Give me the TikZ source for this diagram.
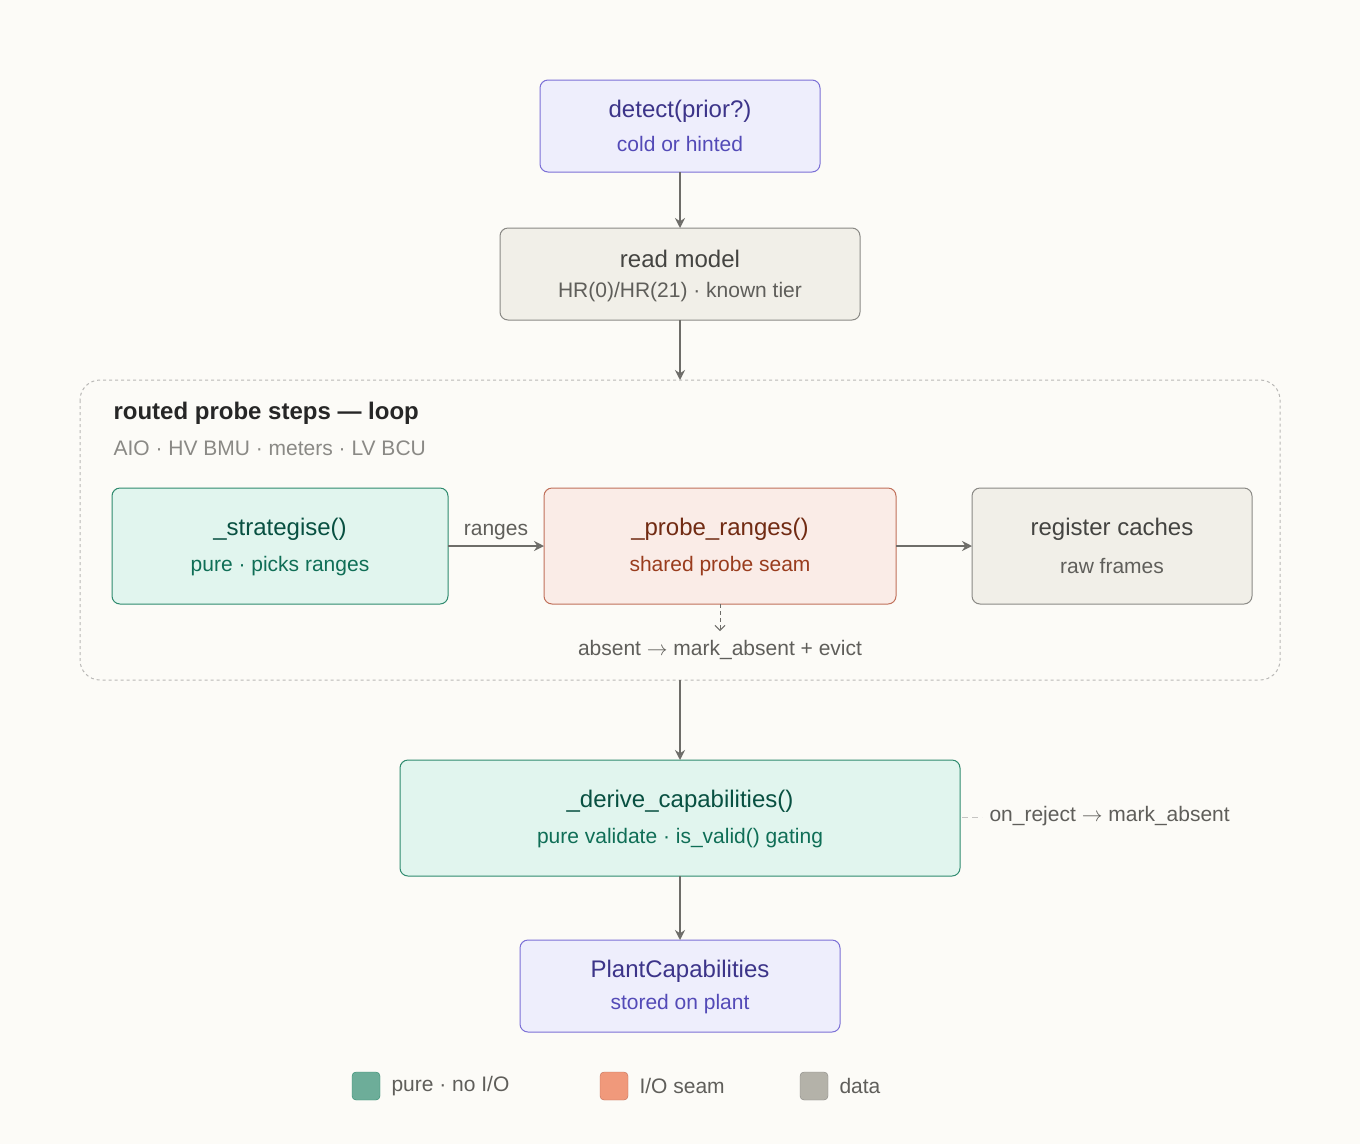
\documentclass[tikz,border=0pt]{standalone}
\usepackage{fontspec}
\setmainfont{Liberation Sans}
\usetikzlibrary{arrows.meta}
\definecolor{bg}{HTML}{FCFBF7}
\definecolor{pF}{HTML}{EEEEFC}\definecolor{pS}{HTML}{7B6FD6}\definecolor{pT}{HTML}{3C3489}\definecolor{pU}{HTML}{534AB7}
\definecolor{gF}{HTML}{F1EFE8}\definecolor{gS}{HTML}{8A8985}\definecolor{gT}{HTML}{444441}\definecolor{gU}{HTML}{5F5E5A}
\definecolor{tF}{HTML}{E1F5EE}\definecolor{tS}{HTML}{2E8A6E}\definecolor{tT}{HTML}{085041}\definecolor{tU}{HTML}{0F6E56}
\definecolor{oF}{HTML}{FAECE7}\definecolor{oS}{HTML}{C0705A}\definecolor{oT}{HTML}{712B13}\definecolor{oU}{HTML}{993C1D}
\definecolor{arr}{HTML}{6E6D69}
\begin{document}
\begin{tikzpicture}[x=1pt,y=-1pt,
 box/.style={draw,rounded corners=8pt,line width=1pt},
 t/.style={font=\fontsize{24}{28}\selectfont},
 s/.style={font=\fontsize{21}{25}\selectfont},
 a/.style={draw=arr,line width=2pt,-{Stealth[length=10pt,width=10pt,open]}},
]
\fill[bg] (0,0) rectangle (1360,1144);
\useasboundingbox (0,0) rectangle (1360,1144);
% container
\draw[draw=gS!60,dashed,line width=1pt,rounded corners=20pt] (80,380) rectangle (1280,680);
\node[anchor=west,font=\fontsize{24}{28}\selectfont\bfseries,text=black!85] (ct) at (110,413) {routed probe steps — loop};
\node[anchor=west,font=\fontsize{21}{25}\selectfont,text=gS] (cs) at (110,448) {AIO · HV BMU · meters · LV BCU};
% boxes
\draw[box,fill=pF,draw=pS] (540,80) rectangle (820,172) coordinate (d2); \coordinate (d) at (680,126);
\node[t,text=pT] (dt) at (680,111) {detect(prior?)};
\node[s,text=pU] (ds) at (680,144) {cold or hinted};
\draw[box,fill=gF,draw=gS] (500,228) rectangle (860,320);
\node[t,text=gT] (rt) at (680,259) {read model};
\node[s,text=gU] (rs) at (680,292) {HR(0)/HR(21) · known tier};
\draw[box,fill=tF,draw=tS] (112,488) rectangle (448,604);
\node[t,text=tT] (st) at (280,529) {\_strategise()};
\node[s,text=tU] (ss) at (280,566) {pure · picks ranges};
\draw[box,fill=oF,draw=oS] (544,488) rectangle (896,604);
\node[t,text=oT] (pt) at (720,529) {\_probe\_ranges()};
\node[s,text=oU] (ps) at (720,566) {shared probe seam};
\draw[box,fill=gF,draw=gS] (972,488) rectangle (1252,604);
\node[t,text=gT] (gt) at (1112,529) {register caches};
\node[s,text=gU] (gs) at (1112,566) {raw frames};
\node[s,text=gU] (ab) at (720,650) {absent $\rightarrow$ mark\_absent + evict};
\draw[box,fill=tF,draw=tS] (400,760) rectangle (960,876);
\node[t,text=tT] (vt) at (680,801) {\_derive\_capabilities()};
\node[s,text=tU] (vs) at (680,838) {pure validate · is\_valid() gating};
\node[s,text=gU,anchor=west] (rj) at (986,816) {on\_reject $\rightarrow$ mark\_absent};
\draw[box,fill=pF,draw=pS] (520,940) rectangle (840,1032);
\node[t,text=pT] (pc) at (680,971) {PlantCapabilities};
\node[s,text=pU] (po) at (680,1004) {stored on plant};
% connectors
\coordinate (a1) at (680,172); \coordinate (a2) at (680,228);
\coordinate (b1) at (680,320); \coordinate (b2) at (680,380);
\coordinate (c1) at (448,546); \coordinate (c2) at (544,546);
\coordinate (e1) at (896,546); \coordinate (e2) at (972,546);
\coordinate (f1) at (680,680); \coordinate (f2) at (680,760);
\coordinate (g1) at (680,876); \coordinate (g2) at (680,940);
\coordinate (h1) at (720,604); \coordinate (h2) at (720,631);
\coordinate (j1) at (962,817); \coordinate (j2) at (982,817);
\draw[a] (a1) -- (a2);
\draw[a] (b1) -- (b2);
\draw[a] (c1) -- node[s,text=gU,above=2pt] (rl) {ranges} (c2);
\draw[a] (e1) -- (e2);
\draw[a] (f1) -- (f2);
\draw[a] (g1) -- (g2);
\draw[draw=arr,line width=1pt,dashed,dash pattern=on 4pt off 3pt,-{Straight Barb[length=5pt,width=10pt]}] (h1) -- (h2);
\draw[draw=gS!50,line width=1pt,dash pattern=on 6pt off 4pt] (j1) -- (j2);
% legend
\draw[rounded corners=4pt,fill=tS!70!white,draw=tS] (352,1072) rectangle (380,1100);
\node[s,text=gU,anchor=west] (l1) at (388,1086) {pure · no I/O};
\draw[rounded corners=4pt,fill={rgb,255:red,240;green,153;blue,123},draw=oS] (600,1072) rectangle (628,1100);
\node[s,text=gU,anchor=west] (l2) at (636,1086) {I/O seam};
\draw[rounded corners=4pt,fill={rgb,255:red,180;green,178;blue,169},draw=gS] (800,1072) rectangle (828,1100);
\node[s,text=gU,anchor=west] (l3) at (836,1086) {data};
\end{tikzpicture}
\end{document}
